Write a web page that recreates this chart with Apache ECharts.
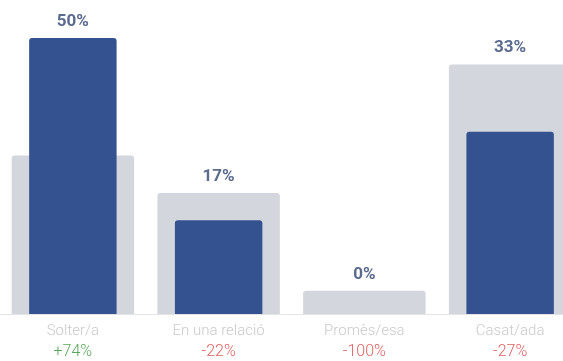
<!DOCTYPE html>
<html>
<head>
<meta charset="utf-8">
<script src="https://cdn.jsdelivr.net/npm/echarts@6/dist/echarts.min.js"></script>
<style>html,body{margin:0;padding:0;background:#fff;}#c{width:563px;height:361px;}</style>
</head>
<body>
<div id="c"></div>
<script>
var categories = ['Solter/a', 'En una relació', 'Promès/esa', 'Casat/ada'];
var currentValues = [50, 17, 0, 33];
var previousValues = [28.7, 21.9, 4.2, 45.2];
var changeLabels = ['+74%', '-22%', '-100%', '-27%'];

var labelPos = currentValues.map(function (v, i) { return Math.max(v, previousValues[i]); });

var chart = echarts.init(document.getElementById('c'));
function hiddenX() {
  return { type: 'category', data: categories, show: false };
}
chart.setOption({
  animation: false,
  grid: { left: 0, width: 583, top: 38, bottom: 47, containLabel: false, outerBoundsMode: 'none' },
  xAxis: [
    {
      type: 'category',
      data: categories,
      axisLine: { show: true, lineStyle: { color: '#e4e4e4', width: 1 } },
      axisTick: { show: false },
      axisLabel: {
        margin: 7,
        interval: 0,
        formatter: function (v, i) {
          var c = changeLabels[i];
          var k = c.charAt(0) === '+' ? 'g' : 'r';
          return '{n|' + v + '}\n{' + k + '|' + c + '}';
        },
        rich: {
          n: { fontFamily: 'Roboto', fontWeight: 300, fontSize: 15, color: '#cacaca', lineHeight: 20 },
          g: { fontFamily: 'Roboto', fontWeight: 300, fontSize: 16, color: '#5aa65a', lineHeight: 22 },
          r: { fontFamily: 'Roboto', fontWeight: 300, fontSize: 16, color: '#e06262', lineHeight: 22 }
        }
      }
    },
    hiddenX(),
    hiddenX()
  ],
  yAxis: { type: 'value', min: 0, max: 50, show: false, splitLine: { show: false } },
  series: [
    {
      type: 'bar',
      xAxisIndex: 0,
      data: previousValues,
      barWidth: '84%',
      itemStyle: { color: '#d3d6dc', borderRadius: [3, 3, 0, 0] },
      z: 1
    },
    {
      type: 'bar',
      xAxisIndex: 1,
      data: currentValues,
      barWidth: '60%',
      itemStyle: { color: '#34528f', borderRadius: [3, 3, 0, 0] },
      z: 2
    },
    {
      type: 'bar',
      xAxisIndex: 2,
      data: labelPos,
      barWidth: '60%',
      itemStyle: { color: 'rgba(0,0,0,0)' },
      z: 3,
      silent: true,
      label: {
        show: true,
        position: 'top',
        distance: 8,
        fontFamily: 'Roboto',
        fontWeight: 'bold',
        fontSize: 17,
        color: '#5b6b8f',
        formatter: function (p) { return currentValues[p.dataIndex] + '%'; }
      }
    }
  ]
});
</script>
</body>
</html>
